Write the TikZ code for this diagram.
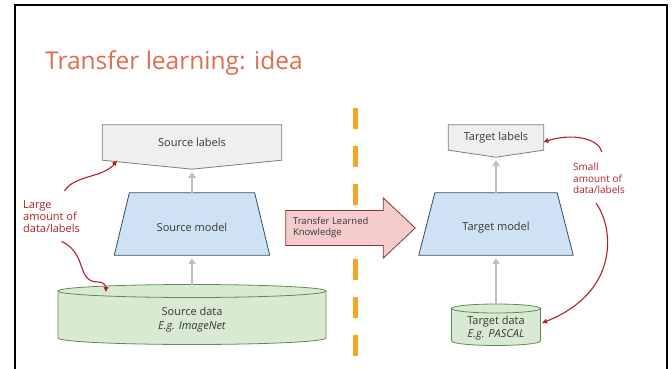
\documentclass[tikz,border=0pt]{standalone}
\usepackage{fontspec}
\setmainfont{Open Sans}
\usepackage{xcolor}
\usepackage{tikz}
\usetikzlibrary{positioning,calc,backgrounds,arrows.meta}

\definecolor{titleorange}{RGB}{224,108,78}
\definecolor{dividerorange}{RGB}{245,166,35}
\definecolor{labelfill}{RGB}{239,239,239}
\definecolor{labelline}{RGB}{125,125,125}
\definecolor{modelfill}{RGB}{207,226,243}
\definecolor{modelline}{RGB}{45,75,115}
\definecolor{datafill}{RGB}{217,234,211}
\definecolor{dataline}{RGB}{95,140,80}
\definecolor{feedgray}{RGB}{190,190,190}
\definecolor{annotred}{RGB}{180,30,40}
\definecolor{transferfill}{RGB}{244,204,204}
\definecolor{transferline}{RGB}{140,50,50}
\definecolor{boxtext}{RGB}{55,55,55}

\tikzset{
  titletext/.style={text=titleorange, font=\fontsize{24.5}{28}\selectfont, inner sep=0pt},
  divider/.style={draw=dividerorange, line width=5pt, dash pattern=on 21pt off 16.8pt},
  labelbox/.style={inner sep=0pt, text=boxtext, font=\fontsize{11}{13}\selectfont},
  labelshape/.style={draw=labelline, fill=labelfill, line width=0.8pt},
  modelbox/.style={labelbox, minimum height=62pt, text height=15pt},
  modelshape/.style={draw=modelline, fill=modelfill, line width=0.8pt},
  datashape/.style={draw=dataline, fill=datafill, line width=0.8pt},
  datatext/.style={inner sep=0pt, align=center, text=boxtext, font=\fontsize{11}{14}\selectfont},
  feed/.style={draw=feedgray, line width=2.5pt, -{Triangle[length=6pt,width=7.5pt]}, shorten >=3pt},
  annot/.style={draw=annotred, line width=1.1pt, -{Triangle[length=5pt,width=4.5pt]}},
  annottext/.style={inner sep=0pt, align=left, text=annotred},
  transfershape/.style={draw=transferline, fill=transferfill, line width=0.8pt},
}

\begin{document}
\begin{tikzpicture}[x=1pt, y=-1pt]
  \useasboundingbox (0,0) rectangle (672,369);

  % Frame and title
  \draw[line width=2pt] (15,372) -- (15,5) -- (667,5) -- (667,372);
  \node[titletext, anchor=base west] (title) at (45,70) {Transfer learning: idea};

  % Divider
  \draw[divider] (355,108) -- (355,357);

  % Define nodes
  \node[labelbox, minimum width=179pt, minimum height=35pt] (srclabels) at (192,142.5) {Source labels};
  \node[modelbox, minimum width=155pt] (srcmodel) at (192,224) {Source model};
  \node[datatext] (srcdata) at (192,319.5) {Source data\\\textit{E.g. ImageNet}};
  \node[labelbox, minimum width=95pt, minimum height=25pt] (tgtlabels) at (496,137.5) {Target labels};
  \node[modelbox, minimum width=154pt] (tgtmodel) at (496,224) {Target model};
  \node[datatext, font=\fontsize{11}{13}\selectfont] (tgtdata) at (496,328) {Target data\\\textit{E.g. PASCAL}};
  \node[minimum width=129pt, minimum height=60pt, inner sep=0pt] (transfer) at (350.5,228) {};
  \node[annottext, anchor=north west, font=\fontsize{11}{12}\selectfont] (large) at (23,200) {Large\\amount of\\data/labels};
  \node[annottext, anchor=north west, font=\fontsize{10}{11.5}\selectfont] (small) at (573,163) {Small\\amount of\\data/labels};

  % Shapes behind the texts
  \begin{scope}[on background layer]
    \draw[labelshape] (srclabels.north west) -- (srclabels.north east) -- (srclabels.south east)
      -- ($(srclabels.south)+(0,9)$) coordinate (srctip) -- (srclabels.south west) -- cycle;
    \draw[labelshape] (tgtlabels.north west) -- (tgtlabels.north east) -- (tgtlabels.south east)
      -- ($(tgtlabels.south)+(0,7)$) coordinate (tgttip) -- (tgtlabels.south west) -- cycle;
    \draw[modelshape] (srcmodel.south west) -- ($(srcmodel.north west)+(15,0)$)
      -- ($(srcmodel.north east)+(-15,0)$) -- (srcmodel.south east) -- cycle;
    \draw[modelshape] (tgtmodel.south west) -- ($(tgtmodel.north west)+(16,0)$)
      -- ($(tgtmodel.north east)+(-16,0)$) -- (tgtmodel.south east) -- cycle;
    \draw[datashape] (58,291) -- (58,338) arc[start angle=180, end angle=0, x radius=134, y radius=6.5] -- (326,291) -- cycle;
    \draw[datashape] (192,291) ellipse [x radius=134, y radius=6.5];
    \draw[datashape] (451.5,308.5) -- (451.5,341) arc[start angle=180, end angle=0, x radius=44.5, y radius=4.5] -- (540.5,308.5) -- cycle;
    \draw[datashape] (496,308.5) ellipse [x radius=44.5, y radius=4.5];
  \end{scope}

  % Transfer arrow over the divider
  \draw[transfershape] ($(transfer.west)+(0,-17.5)$) -- ($(transfer.east)+(-32,-17.5)$)
    -- ($(transfer.north east)+(-32,0)$) -- (transfer.east) -- ($(transfer.south east)+(-32,0)$)
    -- ($(transfer.east)+(-32,17.5)$) -- ($(transfer.west)+(0,17.5)$) -- cycle;
  \node[annottext, anchor=west, text=boxtext, font=\fontsize{9.5}{11}\selectfont, right=7pt of transfer.west] (transfertext) {Transfer Learned\\Knowledge};

  \coordinate (srcdatatop) at (192,284.5);
  \coordinate (tgtdatatop) at (496,304);
  \coordinate (srcdatahit) at (106,292);
  \coordinate (srclabelhit) at (117,160.5);
  \coordinate (tgtlabelhit) at (543.5,142);
  \coordinate (tgtdatahit) at (542,323);

  % Connect the nodes
  \draw[feed] (srcdatatop) -- (srcmodel);
  \draw[feed] (srcmodel) -- (srctip);
  \draw[feed] (tgtdatatop) -- (tgtmodel);
  \draw[feed] (tgtmodel) -- (tgttip);

  % Annotations
  \draw[annot] ($(large.north)+(13,-9)$) .. controls (74,175) and (103,178) .. (srclabelhit);
  \draw[annot] ($(large.south)+(10,9)$) .. controls (88,254) and (76,282) .. (98,282)
    .. controls (104,282) and (106,286) .. (srcdatahit);
  \draw[annot] ($(small.north)+(3,-11)$) .. controls (598,138) and (572,133) .. (tgtlabelhit);
  \draw[annot] ($(small.south)+(-3,9)$) .. controls (614,228) and (620,292) .. (tgtdatahit);

\end{tikzpicture}
\end{document}
